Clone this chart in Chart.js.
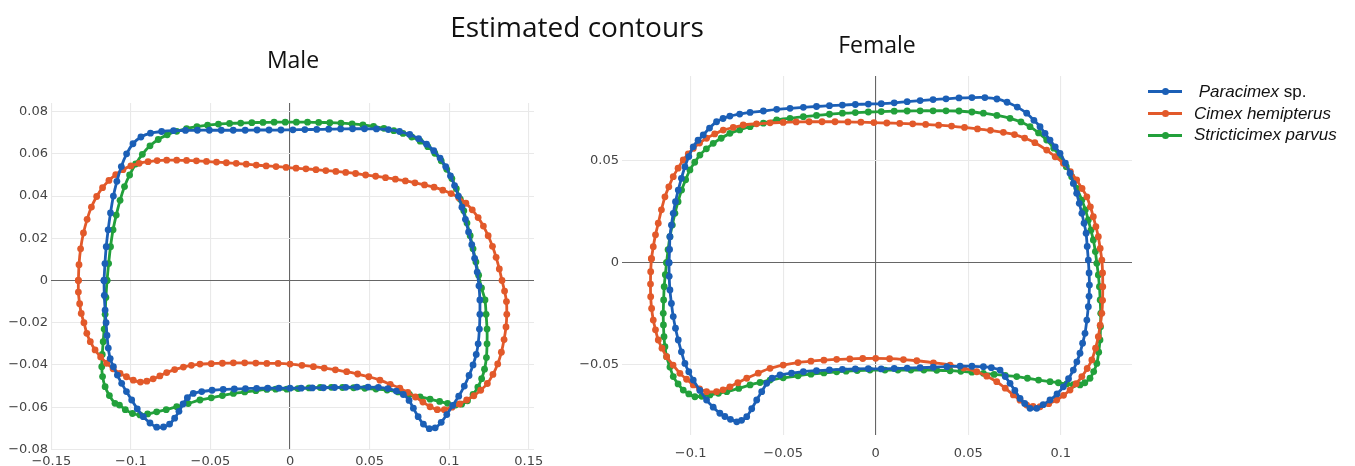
<!DOCTYPE html>
<html><head><meta charset="utf-8">
<script src="https://cdn.jsdelivr.net/npm/chart.js@4.4.1/dist/chart.umd.min.js"></script>
<style>
html,body{margin:0;padding:0;background:#fff;}
body{width:1355px;height:466px;position:relative;overflow:hidden;}
canvas{position:absolute;top:0;}
.t{position:absolute;font-family:'Open Sans',sans-serif;color:#111;white-space:nowrap;transform:translateX(-50%);line-height:1;}
#legend{position:absolute;left:1148px;top:81px;font-family:'Liberation Sans',Arial,sans-serif;font-size:17px;color:#111;z-index:5;}
.row{height:21.7px;display:flex;align-items:center;}
.sw{position:relative;width:34px;height:21.7px;margin-right:12px;flex:none;}
.sw .ln{position:absolute;left:0;top:9.4px;width:34px;height:3px;}
.sw .dt{position:absolute;left:13.5px;top:7.4px;width:7px;height:7px;border-radius:50%;}
.row i{font-style:italic;}
</style>
</head><body>
<canvas id="male" width="560" height="466" style="left:0"></canvas>
<canvas id="female" width="600" height="466" style="left:560px"></canvas>
<div class="t" style="left:577px;top:12px;font-size:28px;">Estimated contours</div>
<div class="t" style="left:293px;top:48px;font-size:23px;">Male</div>
<div class="t" style="left:877px;top:33px;font-size:23px;">Female</div>
<div id="legend"></div>
<script>
// ---------- data ----------
const seriesNames = ['Paracimex sp.', 'Cimex hemipterus', 'Stricticimex parvus'];
const seriesColors = ['#1b5fb6', '#e2592a', '#22a03b'];

const maleXTicks = [-0.15, -0.1, -0.05, 0, 0.05, 0.1, 0.15];
const maleYTicks = [-0.08, -0.06, -0.04, -0.02, 0, 0.02, 0.04, 0.06, 0.08];
const femaleXTicks = [-0.1, -0.05, 0, 0.05, 0.1];
const femaleYTicks = [-0.05, 0, 0.05];

// Male - Paracimex sp.
const maleParaX = [-0.1169,-0.1163,-0.1155,-0.1143,-0.1128,-0.1110,-0.1088,-0.1060,-0.1027,-0.0987,-0.0937,-0.0877,-0.0807,-0.0732,-0.0657,-0.0582,-0.0507,-0.0432,-0.0357,-0.0282,-0.0207,-0.0132,-0.0057,0.0018,0.0093,0.0168,0.0243,0.0318,0.0393,0.0468,0.0543,0.0618,0.0688,0.0752,0.0808,0.0858,0.0903,0.0943,0.0978,0.1008,0.1034,0.1058,0.1080,0.1102,0.1122,0.1142,0.1160,0.1176,0.1187,0.1193,0.1193,0.1190,0.1182,0.1170,0.1150,0.1125,0.1095,0.1060,0.1022,0.0985,0.0950,0.0912,0.0875,0.0838,0.0805,0.0775,0.0748,0.0712,0.0668,0.0615,0.0555,0.0490,0.0420,0.0350,0.0280,0.0210,0.0140,0.0070,0.0000,-0.0070,-0.0140,-0.0210,-0.0280,-0.0350,-0.0420,-0.0490,-0.0555,-0.0608,-0.0645,-0.0672,-0.0698,-0.0725,-0.0757,-0.0795,-0.0838,-0.0880,-0.0922,-0.0960,-0.0995,-0.1028,-0.1058,-0.1085,-0.1110,-0.1130,-0.1142,-0.1150,-0.1156,-0.1162,-0.1167];
const maleParaY = [0.0000,0.0080,0.0160,0.0240,0.0320,0.0400,0.0470,0.0540,0.0600,0.0648,0.0680,0.0698,0.0706,0.0710,0.0711,0.0712,0.0712,0.0712,0.0712,0.0712,0.0713,0.0713,0.0713,0.0714,0.0715,0.0716,0.0717,0.0718,0.0719,0.0719,0.0718,0.0715,0.0706,0.0692,0.0672,0.0646,0.0615,0.0580,0.0540,0.0496,0.0450,0.0400,0.0347,0.0290,0.0230,0.0170,0.0105,0.0040,-0.0025,-0.0092,-0.0160,-0.0230,-0.0300,-0.0350,-0.0400,-0.0450,-0.0500,-0.0548,-0.0592,-0.0635,-0.0672,-0.0698,-0.0702,-0.0680,-0.0645,-0.0605,-0.0568,-0.0540,-0.0524,-0.0512,-0.0506,-0.0505,-0.0505,-0.0506,-0.0507,-0.0508,-0.0509,-0.0510,-0.0510,-0.0510,-0.0510,-0.0511,-0.0512,-0.0514,-0.0516,-0.0520,-0.0526,-0.0535,-0.0555,-0.0585,-0.0620,-0.0652,-0.0680,-0.0694,-0.0695,-0.0675,-0.0645,-0.0608,-0.0566,-0.0526,-0.0487,-0.0448,-0.0408,-0.0370,-0.0320,-0.0260,-0.0200,-0.0140,-0.0070];

// Male - Cimex hemipterus
const maleCimexX = [-0.1330,-0.1326,-0.1316,-0.1298,-0.1275,-0.1248,-0.1215,-0.1178,-0.1138,-0.1095,-0.1050,-0.1000,-0.0948,-0.0892,-0.0835,-0.0775,-0.0712,-0.0650,-0.0588,-0.0525,-0.0462,-0.0400,-0.0338,-0.0275,-0.0212,-0.0150,-0.0088,-0.0025,0.0038,0.0100,0.0163,0.0225,0.0288,0.0350,0.0412,0.0475,0.0538,0.0600,0.0662,0.0725,0.0785,0.0845,0.0905,0.0960,0.1012,0.1060,0.1105,0.1145,0.1182,0.1215,0.1245,0.1272,0.1295,0.1315,0.1332,0.1348,0.1360,0.1362,0.1357,0.1345,0.1328,0.1305,0.1275,0.1240,0.1198,0.1155,0.1110,0.1065,0.1018,0.0970,0.0925,0.0880,0.0835,0.0788,0.0740,0.0690,0.0630,0.0565,0.0495,0.0425,0.0356,0.0285,0.0215,0.0147,0.0075,0.0000,-0.0075,-0.0146,-0.0215,-0.0285,-0.0356,-0.0425,-0.0495,-0.0566,-0.0620,-0.0670,-0.0725,-0.0775,-0.0818,-0.0860,-0.0900,-0.0940,-0.0985,-0.1028,-0.1068,-0.1112,-0.1152,-0.1190,-0.1225,-0.1255,-0.1277,-0.1295,-0.1312,-0.1322,-0.1330];
const maleCimexY = [0.0000,0.0075,0.0150,0.0225,0.0290,0.0348,0.0398,0.0440,0.0474,0.0502,0.0525,0.0543,0.0555,0.0563,0.0568,0.0570,0.0570,0.0569,0.0567,0.0564,0.0561,0.0558,0.0555,0.0551,0.0547,0.0543,0.0540,0.0536,0.0532,0.0529,0.0525,0.0521,0.0517,0.0512,0.0507,0.0500,0.0494,0.0487,0.0480,0.0472,0.0463,0.0453,0.0442,0.0428,0.0412,0.0392,0.0366,0.0335,0.0298,0.0258,0.0212,0.0162,0.0110,0.0055,0.0000,-0.0050,-0.0100,-0.0160,-0.0220,-0.0280,-0.0340,-0.0395,-0.0445,-0.0488,-0.0520,-0.0546,-0.0566,-0.0585,-0.0600,-0.0612,-0.0612,-0.0598,-0.0576,-0.0552,-0.0530,-0.0510,-0.0492,-0.0472,-0.0456,-0.0443,-0.0432,-0.0423,-0.0415,-0.0408,-0.0402,-0.0396,-0.0393,-0.0393,-0.0391,-0.0390,-0.0390,-0.0392,-0.0394,-0.0396,-0.0402,-0.0410,-0.0422,-0.0436,-0.0452,-0.0466,-0.0477,-0.0481,-0.0472,-0.0456,-0.0440,-0.0418,-0.0392,-0.0362,-0.0329,-0.0290,-0.0250,-0.0200,-0.0156,-0.0110,-0.0055];

// Male - Stricticimex parvus
const maleStrictX = [-0.1150,-0.1140,-0.1128,-0.1112,-0.1092,-0.1068,-0.1040,-0.1008,-0.0970,-0.0928,-0.0880,-0.0828,-0.0772,-0.0712,-0.0650,-0.0585,-0.0518,-0.0450,-0.0380,-0.0310,-0.0240,-0.0170,-0.0100,-0.0030,0.0040,0.0110,0.0180,0.0250,0.0320,0.0390,0.0458,0.0525,0.0590,0.0652,0.0710,0.0765,0.0818,0.0866,0.0910,0.0950,0.0985,0.1017,0.1045,0.1070,0.1092,0.1112,0.1132,0.1150,0.1168,0.1185,0.1203,0.1225,0.1232,0.1238,0.1238,0.1234,0.1222,0.1204,0.1180,0.1150,0.1115,0.1078,0.1040,0.0990,0.0940,0.0880,0.0817,0.0750,0.0680,0.0610,0.0540,0.0470,0.0400,0.0330,0.0260,0.0190,0.0120,0.0050,-0.0020,-0.0090,-0.0146,-0.0215,-0.0285,-0.0356,-0.0425,-0.0495,-0.0566,-0.0640,-0.0712,-0.0778,-0.0838,-0.0895,-0.0943,-0.0990,-0.1035,-0.1072,-0.1100,-0.1135,-0.1162,-0.1178,-0.1183,-0.1180,-0.1174,-0.1168,-0.1162,-0.1157];
const maleStrictY = [0.0000,0.0080,0.0160,0.0240,0.0310,0.0380,0.0445,0.0500,0.0552,0.0598,0.0638,0.0668,0.0690,0.0707,0.0720,0.0729,0.0736,0.0741,0.0744,0.0746,0.0748,0.0749,0.0750,0.0750,0.0750,0.0750,0.0749,0.0748,0.0746,0.0742,0.0737,0.0730,0.0721,0.0710,0.0697,0.0680,0.0660,0.0634,0.0603,0.0567,0.0527,0.0483,0.0435,0.0385,0.0330,0.0272,0.0212,0.0150,0.0088,0.0025,-0.0035,-0.0092,-0.0160,-0.0230,-0.0300,-0.0365,-0.0420,-0.0465,-0.0505,-0.0540,-0.0570,-0.0586,-0.0590,-0.0582,-0.0573,-0.0562,-0.0551,-0.0540,-0.0528,-0.0519,-0.0514,-0.0511,-0.0508,-0.0507,-0.0506,-0.0507,-0.0509,-0.0512,-0.0515,-0.0515,-0.0516,-0.0522,-0.0528,-0.0535,-0.0545,-0.0556,-0.0566,-0.0583,-0.0598,-0.0612,-0.0622,-0.0632,-0.0637,-0.0630,-0.0612,-0.0590,-0.0582,-0.0545,-0.0503,-0.0455,-0.0408,-0.0350,-0.0290,-0.0230,-0.0160,-0.0080];

// Female - Paracimex sp.
const femaleParaX = [-0.1117,-0.1114,-0.1112,-0.1104,-0.1094,-0.1082,-0.1067,-0.1050,-0.1031,-0.1010,-0.0986,-0.0960,-0.0932,-0.0898,-0.0860,-0.0825,-0.0788,-0.0735,-0.0679,-0.0607,-0.0535,-0.0463,-0.0391,-0.0320,-0.0250,-0.0180,-0.0110,-0.0040,0.0030,0.0100,0.0170,0.0240,0.0310,0.0380,0.0450,0.0520,0.0590,0.0655,0.0710,0.0765,0.0816,0.0855,0.0888,0.0915,0.0942,0.0970,0.0996,0.1025,0.1050,0.1068,0.1086,0.1100,0.1114,0.1126,0.1137,0.1143,0.1149,0.1153,0.1155,0.1153,0.1149,0.1141,0.1131,0.1118,0.1104,0.1087,0.1068,0.1042,0.1014,0.0980,0.0942,0.0905,0.0870,0.0834,0.0805,0.0780,0.0752,0.0726,0.0700,0.0672,0.0625,0.0582,0.0520,0.0456,0.0385,0.0311,0.0240,0.0170,0.0100,0.0030,-0.0040,-0.0110,-0.0180,-0.0250,-0.0320,-0.0391,-0.0455,-0.0517,-0.0560,-0.0589,-0.0616,-0.0643,-0.0670,-0.0697,-0.0725,-0.0751,-0.0785,-0.0815,-0.0842,-0.0878,-0.0914,-0.0950,-0.0986,-0.1010,-0.1031,-0.1050,-0.1067,-0.1082,-0.1094,-0.1104,-0.1112,-0.1116];
const femaleParaY = [0.0000,0.0065,0.0128,0.0185,0.0243,0.0300,0.0357,0.0415,0.0472,0.0522,0.0570,0.0602,0.0628,0.0662,0.0693,0.0709,0.0721,0.0731,0.0739,0.0746,0.0754,0.0759,0.0764,0.0768,0.0772,0.0775,0.0778,0.0780,0.0782,0.0786,0.0792,0.0797,0.0802,0.0806,0.0810,0.0812,0.0812,0.0805,0.0789,0.0765,0.0735,0.0700,0.0669,0.0636,0.0603,0.0570,0.0538,0.0490,0.0440,0.0390,0.0341,0.0292,0.0243,0.0194,0.0145,0.0080,0.0013,-0.0050,-0.0110,-0.0165,-0.0216,-0.0282,-0.0347,-0.0396,-0.0445,-0.0487,-0.0528,-0.0570,-0.0610,-0.0645,-0.0675,-0.0698,-0.0716,-0.0716,-0.0692,-0.0667,-0.0628,-0.0593,-0.0560,-0.0528,-0.0516,-0.0511,-0.0509,-0.0508,-0.0511,-0.0514,-0.0516,-0.0518,-0.0520,-0.0522,-0.0521,-0.0522,-0.0524,-0.0527,-0.0531,-0.0536,-0.0543,-0.0552,-0.0568,-0.0593,-0.0634,-0.0675,-0.0718,-0.0757,-0.0775,-0.0782,-0.0770,-0.0756,-0.0740,-0.0710,-0.0675,-0.0628,-0.0577,-0.0536,-0.0495,-0.0438,-0.0380,-0.0322,-0.0265,-0.0200,-0.0134,-0.0067];

// Female - Cimex hemipterus
const femaleCimexX = [-0.1212,-0.1202,-0.1190,-0.1175,-0.1158,-0.1139,-0.1118,-0.1094,-0.1068,-0.1040,-0.1013,-0.0986,-0.0952,-0.0914,-0.0870,-0.0824,-0.0770,-0.0716,-0.0644,-0.0571,-0.0500,-0.0430,-0.0360,-0.0290,-0.0220,-0.0150,-0.0080,-0.0010,0.0060,0.0130,0.0200,0.0270,0.0340,0.0410,0.0480,0.0550,0.0620,0.0690,0.0750,0.0805,0.0860,0.0924,0.0970,0.1014,0.1052,0.1086,0.1115,0.1141,0.1160,0.1176,0.1190,0.1203,0.1213,0.1222,0.1226,0.1227,0.1226,0.1222,0.1213,0.1203,0.1188,0.1168,0.1143,0.1114,0.1083,0.1050,0.1015,0.0978,0.0935,0.0888,0.0850,0.0816,0.0780,0.0744,0.0700,0.0654,0.0600,0.0546,0.0475,0.0402,0.0312,0.0222,0.0150,0.0075,0.0000,-0.0070,-0.0140,-0.0211,-0.0280,-0.0350,-0.0420,-0.0500,-0.0571,-0.0635,-0.0697,-0.0745,-0.0788,-0.0825,-0.0860,-0.0914,-0.0952,-0.0986,-0.1022,-0.1058,-0.1095,-0.1130,-0.1155,-0.1175,-0.1190,-0.1202,-0.1211,-0.1216,-0.1217,-0.1216];
const femaleCimexY = [0.0020,0.0079,0.0137,0.0194,0.0260,0.0324,0.0373,0.0423,0.0465,0.0505,0.0535,0.0562,0.0588,0.0612,0.0633,0.0652,0.0665,0.0677,0.0683,0.0688,0.0690,0.0692,0.0693,0.0693,0.0693,0.0692,0.0691,0.0689,0.0687,0.0685,0.0683,0.0680,0.0676,0.0672,0.0665,0.0658,0.0651,0.0641,0.0630,0.0613,0.0590,0.0554,0.0521,0.0489,0.0448,0.0407,0.0365,0.0324,0.0275,0.0226,0.0177,0.0128,0.0070,0.0013,-0.0050,-0.0118,-0.0185,-0.0249,-0.0307,-0.0364,-0.0420,-0.0478,-0.0520,-0.0560,-0.0595,-0.0626,-0.0652,-0.0675,-0.0693,-0.0708,-0.0707,-0.0700,-0.0676,-0.0650,-0.0617,-0.0585,-0.0558,-0.0536,-0.0518,-0.0503,-0.0492,-0.0482,-0.0476,-0.0472,-0.0470,-0.0471,-0.0473,-0.0475,-0.0479,-0.0484,-0.0491,-0.0503,-0.0519,-0.0543,-0.0568,-0.0590,-0.0610,-0.0625,-0.0634,-0.0634,-0.0620,-0.0601,-0.0573,-0.0544,-0.0503,-0.0462,-0.0420,-0.0380,-0.0330,-0.0282,-0.0225,-0.0167,-0.0105,-0.0044];

// Female - Stricticimex parvus
const femaleStrictX = [-0.1130,-0.1122,-0.1112,-0.1099,-0.1085,-0.1068,-0.1049,-0.1027,-0.1004,-0.0978,-0.0950,-0.0915,-0.0878,-0.0835,-0.0788,-0.0735,-0.0679,-0.0607,-0.0535,-0.0463,-0.0391,-0.0320,-0.0250,-0.0180,-0.0110,-0.0040,0.0030,0.0100,0.0170,0.0240,0.0310,0.0380,0.0450,0.0520,0.0582,0.0655,0.0726,0.0785,0.0834,0.0880,0.0924,0.0962,0.0996,0.1030,0.1059,0.1088,0.1114,0.1133,0.1149,0.1163,0.1176,0.1187,0.1195,0.1203,0.1209,0.1213,0.1216,0.1215,0.1212,0.1205,0.1195,0.1178,0.1158,0.1130,0.1104,0.1068,0.1032,0.0987,0.0942,0.0880,0.0820,0.0762,0.0700,0.0640,0.0582,0.0520,0.0460,0.0402,0.0330,0.0260,0.0190,0.0120,0.0050,-0.0031,-0.0100,-0.0160,-0.0211,-0.0280,-0.0350,-0.0420,-0.0500,-0.0571,-0.0625,-0.0679,-0.0740,-0.0805,-0.0850,-0.0896,-0.0940,-0.0977,-0.1010,-0.1040,-0.1068,-0.1094,-0.1112,-0.1130,-0.1139,-0.1144,-0.1147,-0.1148,-0.1146,-0.1143,-0.1137];
const femaleStrictY = [0.0000,0.0064,0.0128,0.0185,0.0243,0.0300,0.0357,0.0408,0.0456,0.0494,0.0529,0.0560,0.0587,0.0612,0.0636,0.0653,0.0669,0.0686,0.0702,0.0710,0.0718,0.0724,0.0730,0.0735,0.0738,0.0741,0.0743,0.0745,0.0746,0.0747,0.0747,0.0747,0.0746,0.0741,0.0735,0.0724,0.0710,0.0692,0.0669,0.0638,0.0603,0.0563,0.0521,0.0472,0.0423,0.0365,0.0308,0.0260,0.0210,0.0160,0.0112,0.0055,-0.0003,-0.0060,-0.0118,-0.0183,-0.0249,-0.0315,-0.0380,-0.0440,-0.0495,-0.0535,-0.0568,-0.0590,-0.0601,-0.0600,-0.0596,-0.0590,-0.0585,-0.0577,-0.0568,-0.0560,-0.0554,-0.0549,-0.0544,-0.0538,-0.0534,-0.0531,-0.0529,-0.0528,-0.0528,-0.0528,-0.0528,-0.0528,-0.0530,-0.0533,-0.0536,-0.0542,-0.0548,-0.0556,-0.0566,-0.0577,-0.0589,-0.0601,-0.0618,-0.0634,-0.0642,-0.0650,-0.0657,-0.0659,-0.0645,-0.0626,-0.0596,-0.0560,-0.0513,-0.0462,-0.0413,-0.0364,-0.0306,-0.0249,-0.0183,-0.0118,-0.0059];

// ---------- build ----------
function pts(xs, ys) {
  const p = xs.map((x, i) => ({x: x, y: ys[i]}));
  p.push({x: xs[0], y: ys[0]}); // close the contour
  return p;
}
function fmt(v) {
  if (Math.abs(v) < 1e-9) return '0';
  const s = String(+Math.abs(v).toFixed(3));
  return (v < 0 ? '\u2212' : '') + s;
}
function makeChart(id, series, cfg) {
  const tickFont = {family: "'DejaVu Sans', Verdana, sans-serif", size: 13};
  const gridColor = ctx => (ctx.tick && Math.abs(ctx.tick.value) < 1e-9) ? '#666666' : '#e9e9e9';
  return new Chart(document.getElementById(id), {
    type: 'scatter',
    data: {
      datasets: series.map((s, k) => ({
        label: seriesNames[k],
        data: pts(s[0], s[1]),
        showLine: true,
        borderColor: seriesColors[k],
        backgroundColor: seriesColors[k],
        borderWidth: 2.8,
        pointRadius: 3.4,
        pointHoverRadius: 3.4,
        pointBorderWidth: 0,
        tension: 0.25,
        fill: false
      }))
    },
    options: {
      responsive: false,
      animation: false,
      devicePixelRatio: 1,
      events: [],
      layout: {padding: {left: 0, right: cfg.padRight, top: cfg.padTop, bottom: 0}},
      plugins: {legend: {display: false}, tooltip: {enabled: false}, title: {display: false}},
      scales: {
        x: {
          type: 'linear', min: cfg.xMin, max: cfg.xMax,
          border: {display: false},
          grid: {color: gridColor, lineWidth: 1.1, drawTicks: false},
          ticks: {font: tickFont, color: '#444', padding: cfg.xPad, autoSkip: false, maxRotation: 0, callback: fmt},
          afterBuildTicks: s => { s.ticks = cfg.xTicks.map(v => ({value: v})); },
          afterFit: s => { s.height = cfg.xAxisH; s.paddingLeft = 0; s.paddingRight = 0; }
        },
        y: {
          type: 'linear', min: cfg.yMin, max: cfg.yMax,
          border: {display: false},
          grid: {color: gridColor, lineWidth: 1.1, drawTicks: false},
          ticks: {font: tickFont, color: '#444', padding: cfg.yPad, autoSkip: false, callback: fmt},
          afterBuildTicks: s => { s.ticks = cfg.yTicks.map(v => ({value: v})); },
          afterFit: s => { s.width = cfg.yAxisW; s.paddingTop = 0; s.paddingBottom = 0; }
        }
      }
    }
  });
}

makeChart('male', [[maleParaX, maleParaY], [maleCimexX, maleCimexY], [maleStrictX, maleStrictY]], {
  xMin: -0.1502, xMax: 0.1533, yMin: -0.0803, yMax: 0.0841,
  xTicks: maleXTicks, yTicks: maleYTicks,
  padRight: 26, padTop: 103, xAxisH: 16, yAxisW: 51, xPad: 4, yPad: 3
});
makeChart('female', [[femaleParaX, femaleParaY], [femaleCimexX, femaleCimexY], [femaleStrictX, femaleStrictY]], {
  xMin: -0.1371, xMax: 0.1385, yMin: -0.0847, yMax: 0.0918,
  xTicks: femaleXTicks, yTicks: femaleYTicks,
  padRight: 28, padTop: 76, xAxisH: 31, yAxisW: 62, xPad: 11, yPad: 3
});

// ---------- legend (HTML text) ----------
const legend = document.getElementById('legend');
seriesNames.forEach((name, k) => {
  const row = document.createElement('div');
  row.className = 'row';
  const sw = document.createElement('div');
  sw.className = 'sw';
  sw.innerHTML = '<div class="ln" style="background:' + seriesColors[k] + '"></div><div class="dt" style="background:' + seriesColors[k] + '"></div>';
  row.appendChild(sw);
  const txt = document.createElement('span');
  if (name.endsWith(' sp.')) {
    txt.innerHTML = '&nbsp;<i>' + name.slice(0, -4) + '</i> sp.';
  } else {
    txt.innerHTML = '<i>' + name + '</i>';
  }
  row.appendChild(txt);
  legend.appendChild(row);
});
</script>
</body></html>
